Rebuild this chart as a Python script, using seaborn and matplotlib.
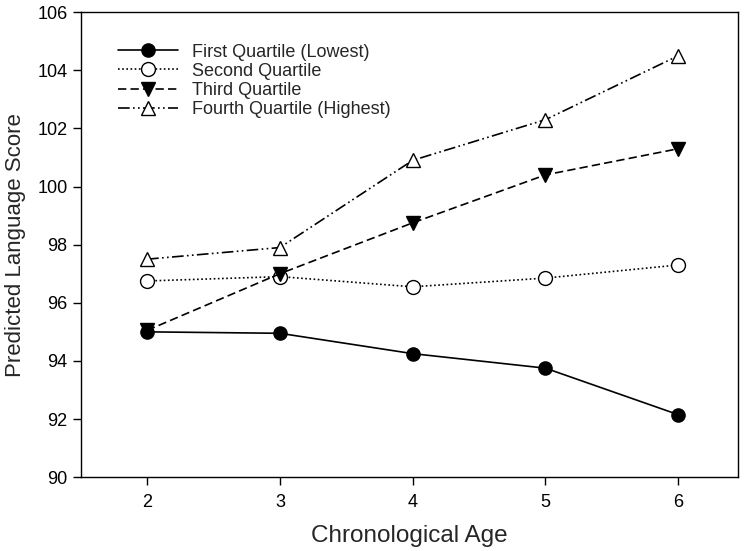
import numpy as np
import pandas as pd
import matplotlib
matplotlib.use("Agg")
import matplotlib.pyplot as plt
import seaborn as sns

# data
ages = [2, 3, 4, 5, 6]
first_q = [95.0, 94.95, 94.25, 93.75, 92.15]
second_q = [96.75, 96.9, 96.55, 96.85, 97.3]
third_q = [95.05, 97.0, 98.75, 100.4, 101.3]
fourth_q = [97.5, 97.9, 100.9, 102.3, 104.5]
labels = ["First Quartile (Lowest)", "Second Quartile",
          "Third Quartile", "Fourth Quartile (Highest)"]

sns.set_style("ticks")
plt.rcParams['font.family'] = ['Liberation Sans', 'DejaVu Sans']

fig = plt.figure(figsize=(7.47, 5.51), dpi=100)
ax = fig.add_axes([0.108, 0.134, 0.88, 0.844])

styles = [
    dict(linestyle='-', marker='o', markerfacecolor='black', markersize=9.5),
    dict(linestyle=(0, (1, 1.5)), marker='o', markerfacecolor='white', markersize=10),
    dict(linestyle=(0, (5, 2.5)), marker='v', markerfacecolor='black', markersize=10),
    dict(linestyle=(0, (7, 2, 1, 2, 1, 2)), marker='^', markerfacecolor='white', markersize=10),
]

for vals, lab, st in zip([first_q, second_q, third_q, fourth_q], labels, styles):
    sns.lineplot(x=ages, y=vals, ax=ax, color='black', linewidth=1.2,
                 markeredgecolor='black', markeredgewidth=1.0,
                 label=lab, **st)

ax.set_xlim(1.5, 6.45)
ax.set_ylim(90, 106)
ax.set_xticks(ages)
ax.set_yticks(np.arange(90, 107, 2))
ax.tick_params(direction='out', length=6, width=1, labelsize=13, colors='black')
ax.tick_params(axis='x', pad=6)
for sp in ax.spines.values():
    sp.set_linewidth(1.0)
    sp.set_color('black')

ax.set_xlabel("Chronological Age", fontsize=17.5, labelpad=10)
ax.set_ylabel("Predicted Language Score", fontsize=16, labelpad=8)

ax.legend(loc='upper left', bbox_to_anchor=(0.046, 0.948), borderaxespad=0,
          frameon=False, fontsize=13, handlelength=3.3, labelspacing=0.12,
          handletextpad=0.8)

fig.savefig("out.png", dpi=100)
